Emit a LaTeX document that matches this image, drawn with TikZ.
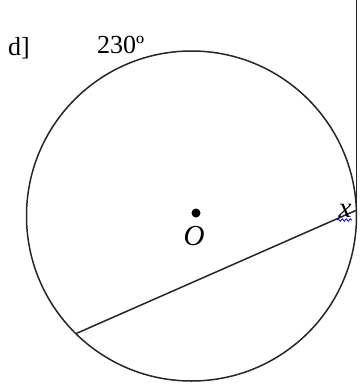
\documentclass[tikz,border=0pt]{standalone}
\usepackage{fontspec}
\setmainfont{Liberation Serif}
\usetikzlibrary{calc,decorations.pathmorphing}
\tikzset{
  geo/.style={line width=1.5pt, draw=black!85},
  lbl/.style={inner sep=0pt, font=\fontsize{26}{28}\selectfont},
  var/.style={inner sep=0pt, font=\fontsize{29}{31}\selectfont\itshape},
}
\begin{document}
\begin{tikzpicture}[x=1pt,y=-1pt]
\useasboundingbox (0,0) rectangle (360,386);
\coordinate (C) at (191.5,216);
\coordinate (T) at ($(C)+(-2:165)$);
\coordinate (A) at ($(C)+(134.5:165)$);
\coordinate (Top) at (T |- 0,0);
\draw[geo] (C) circle (165pt);
\draw[geo] (Top) -- (T);
\draw[geo] (T) -- (A);
\fill[black] (196,213) circle (4.5pt);
\node[var, anchor=base] (O) at (194,245) {O};
\node[var, anchor=base] (x) at (345,217) {x};
\draw[blue, line width=0.8pt, decorate, decoration={snake, amplitude=1.3pt, segment length=4pt}] (337,220) -- (352,220);
\node[lbl, anchor=base west] (d) at (8,55) {d]};
\node[lbl, anchor=base west] (ang) at (97,53) {230º};
\end{tikzpicture}
\end{document}
